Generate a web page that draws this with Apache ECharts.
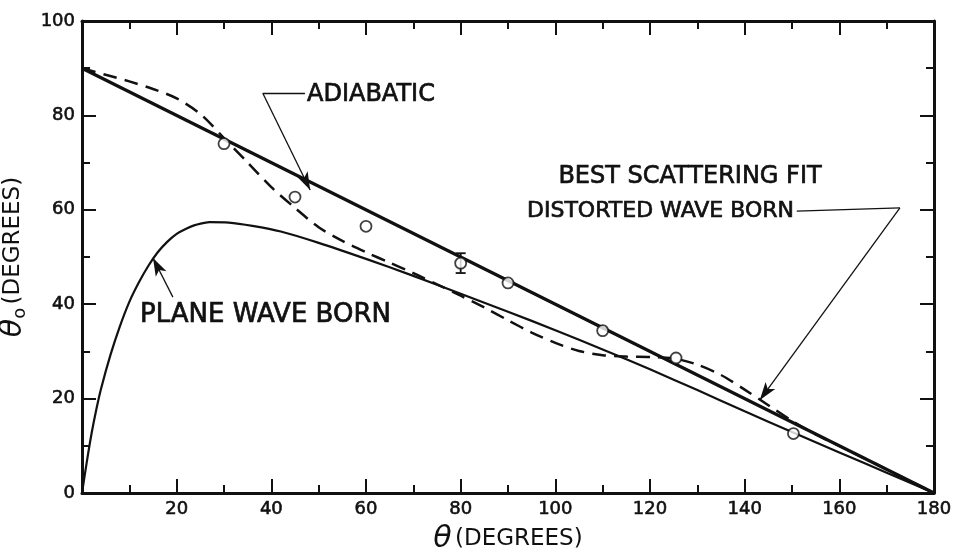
<!DOCTYPE html>
<html>
<head>
<meta charset="utf-8">
<script src="https://cdn.jsdelivr.net/npm/echarts@6/dist/echarts.min.js"></script>
<style>
  html, body { margin: 0; padding: 0; background: #fff; }
  #chart { width: 954px; height: 560px; }
</style>
</head>
<body>
<div id="chart"></div>
<script>
// values (theta and theta_0 in degrees)
const adiabaticX = [0, 180];
const adiabaticY = [90, 0];

const planeWaveX = [0, 1, 2, 3, 4, 6, 8, 10, 12, 14, 16, 18, 20, 22, 24, 27, 31, 36, 42, 50, 60, 70, 80, 90, 100, 110, 120, 130, 140, 150, 160, 170, 180];
const planeWaveY = [0, 6.5, 12.5, 17.6, 22, 29.2, 35.3, 40.5, 44.6, 48.1, 51, 53.2, 54.9, 56, 56.8, 57.4, 57.3, 56.6, 55.4, 53, 49.6, 46, 42.2, 38.4, 34.5, 30.4, 26.2, 21.8, 17.3, 12.9, 8.6, 4.3, 0];

const distortedX = [0, 5, 10, 15, 20, 25, 30, 35, 40, 45, 50, 55, 60, 65, 70, 75, 80, 85, 90, 95, 100, 105, 110, 115, 120, 125, 130, 135, 140, 145, 150, 155, 160, 170, 180];
const distortedY = [90, 88.6, 87.2, 85.6, 83.6, 80.3, 75.2, 70, 64.8, 60.4, 56.3, 53.4, 51, 48.8, 46.6, 44.2, 41.8, 39.3, 36.6, 34, 31.8, 30.1, 29.2, 28.9, 28.8, 28.5, 27.2, 25, 21.9, 18.6, 15.3, 12.4, 10, 5, 0];

const measuredX = [30, 45, 60, 80, 90, 110, 125.5, 150.3];
const measuredY = [74, 62.7, 56.5, 48.7, 44.5, 34.4, 28.6, 12.6];

const errX = [80];
const errLow = [46.6];
const errHigh = [50.8];

const xTicks = [0, 20, 40, 60, 80, 100, 120, 140, 160, 180];
const yTicks = [0, 20, 40, 60, 80, 100];

const ink = '#111';
const font = '"DejaVu Sans", "Liberation Sans", sans-serif';

function pairs(xs, ys) {
  return xs.map(function (x, i) { return [x, ys[i]]; });
}

function axisCommon(extra) {
  return Object.assign({
    type: 'value',
    axisLine: { show: true, onZero: false, lineStyle: { color: ink, width: 3 } },
    axisTick: { show: true, inside: true, length: 14, lineStyle: { color: ink, width: 2 } },
    minorTick: { show: true, splitNumber: 2, length: 8, lineStyle: { color: ink, width: 2 } },
    splitLine: { show: false },
    minorSplitLine: { show: false }
  }, extra);
}

const tickLabel = {
  color: ink, fontSize: 18, fontFamily: font, margin: 7,
  textBorderColor: ink, textBorderWidth: 0.6
};

const chart = echarts.init(document.getElementById('chart'));

chart.setOption({
  animation: false,
  backgroundColor: '#fff',
  grid: { left: 82, right: 20, top: 21, bottom: 67, containLabel: false, outerBoundsMode: 'none' },
  xAxis: [
    axisCommon({
      min: xTicks[0], max: xTicks[xTicks.length - 1], interval: 20, position: 'bottom',
      axisLabel: Object.assign({
        formatter: function (v) { return v === 0 ? '' : String(v); }
      }, tickLabel),
      name: '{t|θ} {d|(DEGREES)}',
      nameLocation: 'middle',
      nameGap: 31,
      nameTextStyle: {
        rich: {
          t: { fontSize: 30, fontStyle: 'italic', fontFamily: font, color: ink },
          d: { fontSize: 23, fontFamily: font, color: ink }
        }
      }
    }),
    axisCommon({
      min: xTicks[0], max: xTicks[xTicks.length - 1], interval: 20, position: 'top',
      axisLabel: { show: false }
    })
  ],
  yAxis: [
    axisCommon({
      min: yTicks[0], max: yTicks[yTicks.length - 1], interval: 20, position: 'left',
      axisLabel: tickLabel,
      name: '{t|θ}{s|o} {d|(DEGREES)}',
      nameLocation: 'middle',
      nameGap: 40,
      nameRotate: 90,
      nameTextStyle: {
        rich: {
          t: { fontSize: 30, fontStyle: 'italic', fontFamily: font, color: ink },
          s: { fontSize: 18, fontFamily: font, color: ink, padding: [14, 0, 0, 0] },
          d: { fontSize: 23, fontFamily: font, color: ink }
        }
      }
    }),
    axisCommon({
      min: yTicks[0], max: yTicks[yTicks.length - 1], interval: 20, position: 'right',
      axisLabel: { show: false }
    })
  ],
  series: [
    {
      name: 'Adiabatic',
      type: 'line',
      data: pairs(adiabaticX, adiabaticY),
      showSymbol: false,
      silent: true,
      lineStyle: { color: ink, width: 3.2 },
      markLine: {
        silent: true,
        symbol: ['none', 'none'],
        symbolSize: [9, 18],
        label: { show: false },
        lineStyle: { color: ink, width: 1.3, type: 'solid' },
        data: [
          [{ coord: [47.1, 84.7] }, { coord: [38.2, 84.7] }],
          [{ coord: [38.2, 84.7] }, { coord: [48.2, 64.2], symbol: 'arrow' }],
          [{ coord: [19.2, 41.5] }, { coord: [15, 49.8], symbol: 'arrow' }],
          [{ coord: [151, 59.7] }, { coord: [172.8, 60.4] }],
          [{ coord: [172.8, 60.4] }, { coord: [143.2, 19.7], symbol: 'arrow' }]
        ]
      }
    },
    {
      name: 'Plane wave Born',
      type: 'line',
      data: pairs(planeWaveX, planeWaveY),
      smooth: 0.3,
      showSymbol: false,
      silent: true,
      lineStyle: { color: ink, width: 2.2 }
    },
    {
      name: 'Distorted wave Born',
      type: 'line',
      data: pairs(distortedX, distortedY),
      smooth: 0.3,
      showSymbol: false,
      silent: true,
      lineStyle: { color: ink, width: 2.5, type: [14, 8] }
    },
    {
      name: 'Error bar',
      type: 'custom',
      silent: true,
      data: errX.map(function (x, i) { return [x, errLow[i], errHigh[i]]; }),
      renderItem: function (params, api) {
        const lo = api.coord([api.value(0), api.value(1)]);
        const hi = api.coord([api.value(0), api.value(2)]);
        const w = 5;
        const st = { stroke: ink, lineWidth: 1.8 };
        return {
          type: 'group',
          children: [
            { type: 'line', shape: { x1: lo[0], y1: lo[1], x2: hi[0], y2: hi[1] }, style: st },
            { type: 'line', shape: { x1: lo[0] - w, y1: lo[1], x2: lo[0] + w, y2: lo[1] }, style: st },
            { type: 'line', shape: { x1: hi[0] - w, y1: hi[1], x2: hi[0] + w, y2: hi[1] }, style: st }
          ]
        };
      }
    },
    {
      name: 'Measured',
      type: 'scatter',
      data: pairs(measuredX, measuredY),
      symbol: 'circle',
      symbolSize: 11,
      silent: true,
      z: 5,
      itemStyle: { color: '#fff', borderColor: ink, borderWidth: 1.8 }
    }
  ],
  graphic: [
    { type: 'text', style: { text: 'ADIABATIC', x: 307, y: 95, font: '24px ' + font, fill: ink, stroke: ink, lineWidth: 0.7, textAlign: 'left', textVerticalAlign: 'middle' } },
    { type: 'text', style: { text: 'PLANE WAVE BORN', x: 140, y: 315, font: '26px ' + font, fill: ink, stroke: ink, lineWidth: 0.7, textAlign: 'left', textVerticalAlign: 'middle' } },
    { type: 'text', style: { text: 'BEST SCATTERING FIT', x: 690, y: 177, font: '24px ' + font, fill: ink, stroke: ink, lineWidth: 0.7, textAlign: 'center', textVerticalAlign: 'middle' } },
    { type: 'text', style: { text: 'DISTORTED WAVE BORN', x: 527, y: 211, font: '22px ' + font, fill: ink, stroke: ink, lineWidth: 0.7, textAlign: 'left', textVerticalAlign: 'middle' } }
  ]
});

window.addEventListener('resize', chart.resize);
</script>
</body>
</html>
